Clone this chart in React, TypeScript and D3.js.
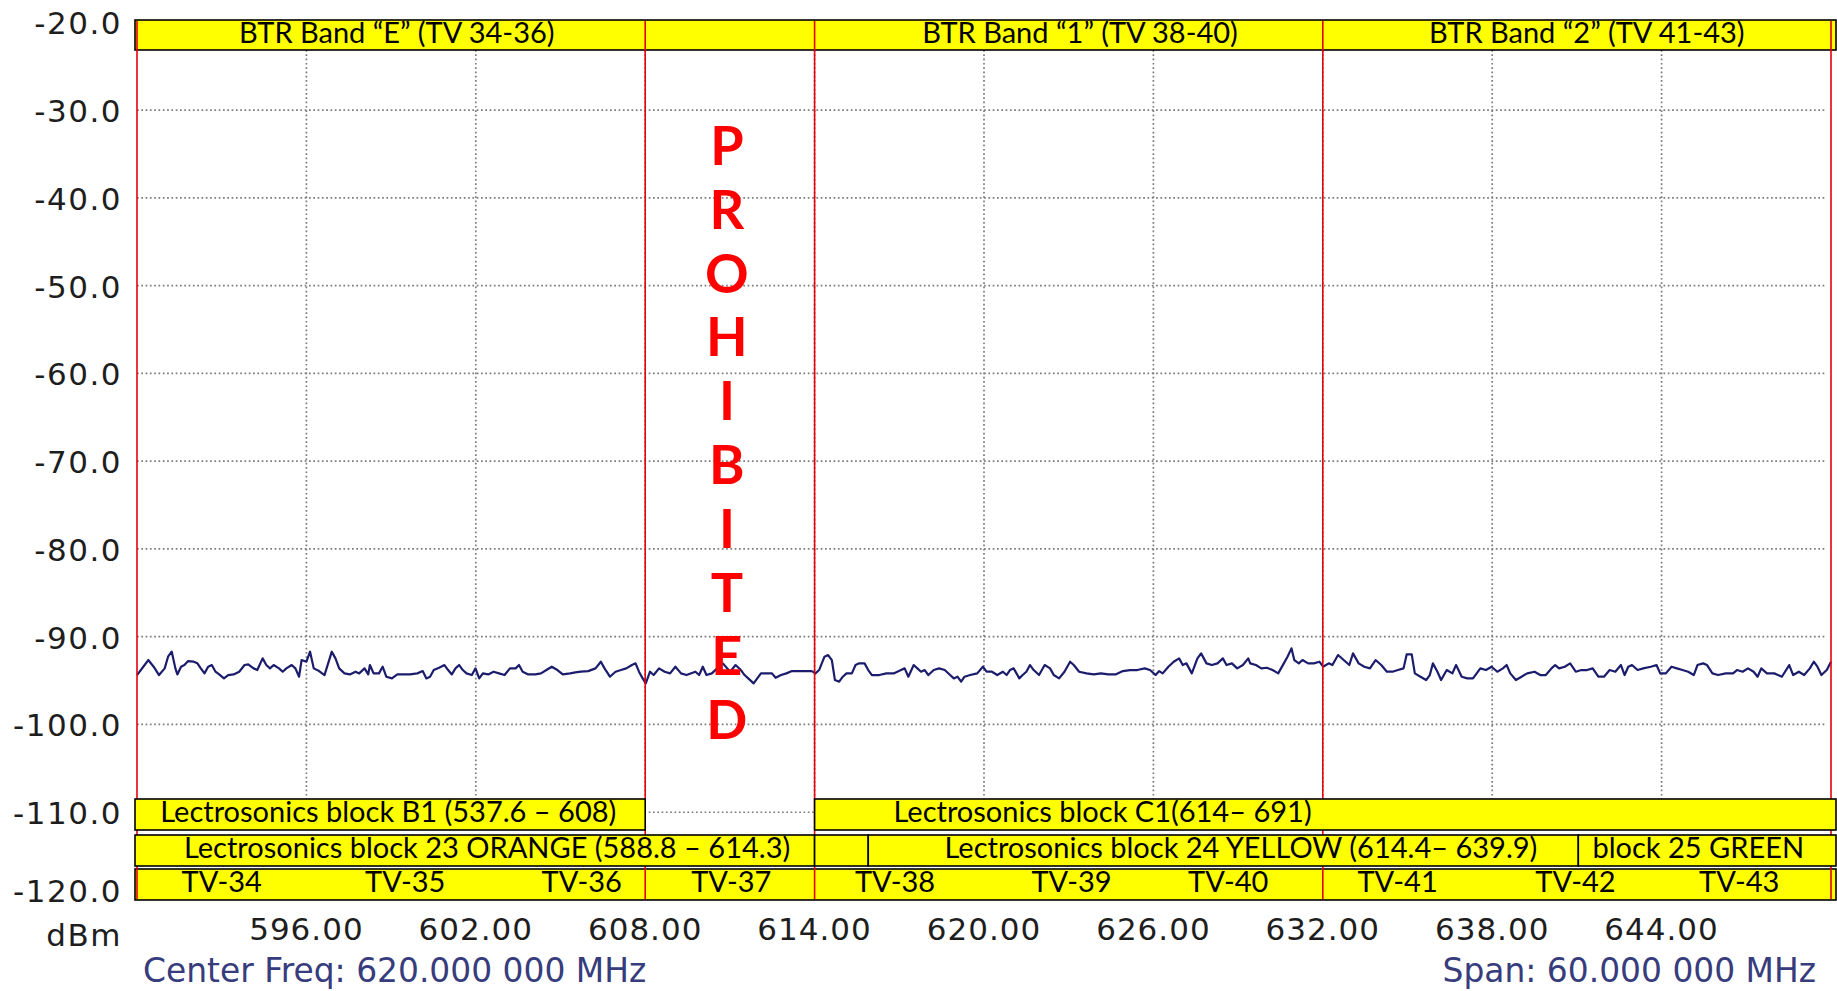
import React from 'react'
import * as d3 from 'd3'

const WIDTH = 1837
const HEIGHT = 991

// analyzer sweep: 590 - 650 MHz, -20 .. -120 dBm
const FREQ_START = 590
const FREQ_STOP = 650
const LEVEL_TOP = -20
const LEVEL_BOTTOM = -120

const levelTicks = [-20, -30, -40, -50, -60, -70, -80, -90, -100, -110, -120]
const freqTicks = [596, 602, 608, 614, 620, 626, 632, 638, 644]

// [MHz, dBm]
const trace: [number, number][] = [
  [590.0, -94.37], [590.27, -93.23], [590.4, -92.66], [590.59, -93.42], [590.78, -94.37], [590.98, -93.61], [591.1, -92.28], [591.23, -91.71], [591.36, -93.61], [591.43, -94.3],
  [591.56, -93.42], [591.68, -93.23], [591.81, -92.78], [592.01, -92.85], [592.14, -93.04], [592.26, -93.61], [592.39, -94.18], [592.52, -93.42], [592.65, -93.23], [592.78, -93.99],
  [592.91, -94.3], [593.08, -94.75], [593.23, -94.37], [593.42, -94.3], [593.62, -93.99], [593.81, -93.23], [593.94, -93.16], [594.13, -93.61], [594.26, -93.8], [594.45, -92.47],
  [594.58, -93.23], [594.71, -93.61], [594.84, -93.23], [595.03, -93.61], [595.16, -93.99], [595.29, -93.61], [595.48, -93.23], [595.61, -93.61], [595.74, -94.56], [595.83, -92.66],
  [596.0, -92.85], [596.13, -91.71], [596.26, -93.61], [596.45, -93.92], [596.64, -94.37], [596.77, -93.04], [596.9, -91.71], [597.03, -92.47], [597.16, -93.61], [597.35, -94.18],
  [597.54, -94.3], [597.74, -93.99], [597.87, -94.18], [598.06, -93.61], [598.19, -94.3], [598.25, -93.23], [598.38, -94.18], [598.57, -94.18], [598.7, -93.42], [598.83, -94.56],
  [599.03, -94.75], [599.22, -94.3], [599.41, -94.3], [599.67, -94.3], [599.93, -94.18], [600.12, -93.92], [600.25, -94.75], [600.38, -94.56], [600.51, -93.8], [600.7, -93.54],
  [600.89, -93.23], [601.02, -93.8], [601.15, -94.3], [601.28, -93.61], [601.41, -93.23], [601.54, -93.8], [601.67, -94.18], [601.86, -94.37], [601.99, -93.61], [602.12, -94.75],
  [602.25, -94.18], [602.44, -94.3], [602.63, -93.99], [602.82, -94.18], [603.02, -94.37], [603.21, -93.61], [603.41, -93.61], [603.53, -93.23], [603.66, -93.99], [603.86, -94.3],
  [604.11, -94.3], [604.31, -94.18], [604.5, -93.8], [604.69, -93.42], [604.89, -93.8], [605.08, -94.3], [605.34, -94.18], [605.53, -94.07], [605.72, -93.99], [605.98, -93.92],
  [606.24, -93.61], [606.43, -92.85], [606.56, -93.61], [606.75, -94.56], [606.95, -93.99], [607.14, -93.8], [607.33, -93.61], [607.53, -93.23], [607.66, -93.04], [607.78, -93.99],
  [607.91, -94.75], [608.02, -95.32], [608.17, -93.99], [608.3, -94.37], [608.49, -93.61], [608.69, -93.99], [608.88, -94.18], [609.07, -93.42], [609.27, -94.18], [609.46, -94.37],
  [609.78, -93.99], [609.91, -94.37], [610.04, -93.42], [610.17, -94.37], [610.36, -94.18], [610.55, -93.61], [610.75, -93.04], [611.01, -93.99], [611.2, -93.23], [611.39, -93.8],
  [611.52, -94.37], [611.65, -94.75], [611.84, -95.32], [611.97, -94.75], [612.1, -94.18], [612.29, -94.18], [612.49, -94.18], [612.62, -94.68], [612.81, -94.37], [613.0, -94.18],
  [613.2, -93.92], [613.45, -93.92], [613.71, -93.92], [613.9, -93.92], [614.03, -94.18], [614.16, -93.8], [614.35, -92.28], [614.48, -92.09], [614.61, -92.66], [614.72, -94.94],
  [614.87, -95.13], [615.0, -94.56], [615.13, -94.18], [615.32, -94.18], [615.45, -93.23], [615.58, -93.04], [615.77, -93.04], [615.9, -93.8], [616.03, -94.37], [616.29, -94.37],
  [616.54, -94.18], [616.8, -94.18], [617.06, -93.8], [617.19, -93.61], [617.32, -94.56], [617.51, -93.23], [617.64, -93.61], [617.77, -93.99], [617.9, -93.8], [618.03, -94.37],
  [618.22, -93.8], [618.41, -93.61], [618.61, -93.8], [618.8, -94.37], [618.93, -94.75], [619.06, -94.56], [619.19, -95.13], [619.31, -94.56], [619.51, -94.37], [619.76, -94.18],
  [619.96, -93.42], [620.09, -93.99], [620.28, -93.99], [620.47, -94.37], [620.67, -93.99], [620.8, -94.37], [620.92, -93.8], [621.05, -93.61], [621.25, -94.75], [621.37, -94.37],
  [621.5, -93.99], [621.63, -93.23], [621.76, -93.8], [621.95, -94.37], [622.15, -93.23], [622.34, -93.61], [622.47, -94.37], [622.66, -94.75], [622.85, -93.99], [623.05, -92.85],
  [623.18, -93.23], [623.37, -93.99], [623.63, -94.18], [623.89, -94.3], [624.14, -94.18], [624.4, -94.3], [624.66, -94.3], [624.92, -93.92], [625.17, -93.8], [625.43, -93.8],
  [625.69, -93.61], [625.88, -93.8], [626.08, -94.37], [626.2, -93.92], [626.33, -94.18], [626.53, -93.42], [626.72, -92.85], [626.91, -92.47], [627.04, -93.23], [627.17, -93.04],
  [627.36, -94.18], [627.56, -92.47], [627.69, -91.9], [627.88, -93.04], [628.07, -93.23], [628.27, -93.04], [628.46, -92.47], [628.59, -93.23], [628.78, -93.04], [628.97, -93.61],
  [629.17, -93.23], [629.36, -92.47],
  [629.43, -93.04], [629.63, -93.23], [629.82, -93.61], [630.02, -93.54], [630.22, -93.8], [630.42, -94.18], [630.62, -93.04], [630.75, -92.28], [630.89, -91.33], [630.99, -92.66],
  [631.15, -93.04], [631.28, -92.66], [631.48, -93.04], [631.68, -93.04], [631.88, -92.85], [632.01, -93.42], [632.21, -93.04], [632.34, -93.23], [632.54, -92.09], [632.74, -92.66],
  [632.94, -93.23], [633.07, -91.9], [633.27, -93.04], [633.47, -93.42], [633.67, -93.61], [633.87, -92.66], [634.07, -93.23], [634.27, -93.99], [634.47, -93.99], [634.66, -93.8],
  [634.86, -93.61], [634.97, -92.02], [635.15, -92.02], [635.26, -94.18], [635.46, -94.56], [635.66, -94.94], [635.79, -94.37], [635.9, -93.04], [636.06, -93.99], [636.19, -94.94],
  [636.39, -93.8], [636.59, -94.18], [636.72, -93.23], [636.92, -94.56], [637.12, -94.75], [637.32, -94.75], [637.45, -94.18], [637.58, -93.61], [637.78, -93.8], [637.98, -93.42],
  [638.18, -93.99], [638.38, -93.61], [638.51, -93.23], [638.64, -94.18], [638.84, -94.94], [639.04, -94.56], [639.24, -94.18], [639.5, -93.99], [639.7, -94.37], [639.9, -94.37],
  [640.1, -93.61], [640.23, -93.23], [640.37, -93.61], [640.57, -93.42], [640.76, -93.04], [640.96, -93.99], [641.16, -93.8], [641.36, -93.8], [641.56, -93.61], [641.76, -94.56],
  [641.96, -94.56], [642.16, -93.8], [642.36, -93.99], [642.56, -93.23], [642.69, -94.37], [642.82, -93.42], [642.95, -93.23], [643.15, -93.8], [643.35, -93.61], [643.62, -93.42],
  [643.82, -93.23], [643.95, -94.18], [644.15, -94.18], [644.35, -93.42], [644.54, -93.61], [644.74, -93.8], [644.94, -93.99], [645.14, -94.37], [645.27, -93.23], [645.47, -93.04],
  [645.61, -93.23], [645.8, -94.18], [646.0, -94.37], [646.27, -94.18], [646.53, -94.18], [646.67, -93.8], [646.87, -93.99], [647.06, -93.61], [647.26, -93.99], [647.4, -94.56],
  [647.53, -93.61], [647.73, -94.18], [647.99, -94.18], [648.26, -94.56], [648.52, -93.23], [648.66, -94.37], [648.86, -93.99], [649.05, -94.37], [649.25, -93.61], [649.39, -92.85],
  [649.52, -93.42], [649.66, -94.37], [649.85, -93.8], [650.0, -92.85],
]

// annotation rows, lo/hi in MHz, label centred at "at"
const btrBands = [
  { label: 'BTR Band “E” (TV 34-36)', lo: 590, hi: 608, at: 599.2 },
  { label: '', lo: 608, hi: 614, at: 611 },
  { label: 'BTR Band “1” (TV 38-40)', lo: 614, hi: 632, at: 623.4 },
  { label: 'BTR Band “2” (TV 41-43)', lo: 632, hi: 650, at: 641.35 },
]

const lectroBlocksA = [
  { label: 'Lectrosonics block B1 (537.6 – 608)', lo: 590, hi: 608, at: 598.9 },
  { label: 'Lectrosonics block C1(614– 691)', lo: 614, hi: 650, at: 624.2 },
]

const lectroBlocksB = [
  { label: 'Lectrosonics block 23 ORANGE (588.8 – 614.3)', lo: 590, hi: 614, at: 602.4 },
  { label: '', lo: 614, hi: 615.9, at: 615 },
  { label: 'Lectrosonics block 24 YELLOW (614.4– 639.9)', lo: 615.9, hi: 641.05, at: 629.1 },
  { label: 'block 25 GREEN', lo: 641.05, hi: 650, at: 645.3 },
]

// channel label positions as placed in the picture
const tvChannels = [
  { name: 'TV-34', lo: 590, hi: 596, at: 593.0 },
  { name: 'TV-35', lo: 596, hi: 602, at: 599.5 },
  { name: 'TV-36', lo: 602, hi: 608, at: 605.75 },
  { name: 'TV-37', lo: 608, hi: 614, at: 611.05 },
  { name: 'TV-38', lo: 614, hi: 620, at: 616.85 },
  { name: 'TV-39', lo: 620, hi: 626, at: 623.1 },
  { name: 'TV-40', lo: 626, hi: 632, at: 628.65 },
  { name: 'TV-41', lo: 632, hi: 638, at: 634.65 },
  { name: 'TV-42', lo: 638, hi: 644, at: 640.95 },
  { name: 'TV-43', lo: 644, hi: 650, at: 646.75 },
]

const bandEdges = [590, 608, 614, 632, 650]
const prohibitedLetters = ['P', 'R', 'O', 'H', 'I', 'B', 'I', 'T', 'E', 'D']

const centerFreqText = 'Center Freq: 620.000 000 MHz'
const spanText = 'Span: 60.000 000 MHz'

// layout
const PLOT_LEFT = 137
const PLOT_RIGHT = 1831
const PLOT_TOP = 22.3
const PLOT_BOTTOM = 900
const TOP_BAND = { y: 20, h: 30 }
const ROW_A = { y: 799, h: 31 }
const ROW_B = { y: 835, h: 31 }
const ROW_TV = { y: 869, h: 31 }

const YELLOW = '#ffff00'
const RED = '#e8000b'
const GRID = '#7c7c7c'
const TRACE = '#1b1d6c'
const LABEL_FONT = '"DejaVu Sans", Verdana, sans-serif'
const BOX_FONT = 'Lato, "Open Sans", sans-serif'

export default function App() {
  const x = d3.scaleLinear().domain([FREQ_START, FREQ_STOP]).range([PLOT_LEFT, PLOT_RIGHT])
  const y = d3.scaleLinear().domain([LEVEL_BOTTOM, LEVEL_TOP]).range([PLOT_BOTTOM, PLOT_TOP])

  const tracePath = d3
    .line<[number, number]>()
    .x(d => x(d[0]))
    .y(d => y(d[1]))(trace)

  // boxes touching the sweep edges run a little past the plot frame
  const boxLeft = (f: number) => (f <= FREQ_START ? x(f) - 2 : x(f))
  const boxRight = (f: number) => (f >= FREQ_STOP ? x(f) + 5 : x(f))

  const renderRow = (items, row, keyPrefix) =>
    items.map((b, i) => (
      <rect
        key={`${keyPrefix}-${i}`}
        x={boxLeft(b.lo)}
        y={row.y}
        width={boxRight(b.hi) - boxLeft(b.lo)}
        height={row.h}
        fill={YELLOW}
        stroke="#000"
        strokeWidth={1.6}
      />
    ))

  const renderRowText = (items, row, keyPrefix) =>
    items
      .filter(b => b.label)
      .map((b, i) => (
        <text
          key={`${keyPrefix}-t-${i}`}
          x={x(b.at)}
          y={row.y + 23}
          textAnchor="middle"
          fontFamily={BOX_FONT}
          fontSize={29}
          fill="#000"
        >
          {b.label}
        </text>
      ))

  const gridLevels = levelTicks.filter(v => v !== LEVEL_TOP && v !== LEVEL_BOTTOM)

  return (
    <svg
      width={WIDTH}
      height={HEIGHT}
      style={{ position: 'absolute', left: 0, top: 0, background: '#fff' }}
    >
      <rect x={0} y={0} width={WIDTH} height={HEIGHT} fill="#fff" />

      {/* dotted grid */}
      {gridLevels.map(v => (
        <line
          key={`h${v}`}
          x1={PLOT_LEFT}
          x2={PLOT_RIGHT - 6}
          y1={y(v)}
          y2={y(v)}
          stroke={GRID}
          strokeWidth={1.7}
          strokeDasharray="1.7 2.6"
        />
      ))}
      {freqTicks.map(f => (
        <line
          key={`v${f}`}
          x1={x(f)}
          x2={x(f)}
          y1={TOP_BAND.y + TOP_BAND.h}
          y2={ROW_A.y}
          stroke={GRID}
          strokeWidth={1.7}
          strokeDasharray="1.7 2.6"
        />
      ))}

      {/* measured trace */}
      <path d={tracePath} fill="none" stroke={TRACE} strokeWidth={2.2} strokeLinejoin="round" />

      {/* BTR band header */}
      <rect
        x={boxLeft(FREQ_START)}
        y={TOP_BAND.y}
        width={boxRight(FREQ_STOP) - boxLeft(FREQ_START)}
        height={TOP_BAND.h}
        fill={YELLOW}
        stroke="#000"
        strokeWidth={1.6}
      />

      {/* TV channel strip */}
      <rect
        x={boxLeft(FREQ_START)}
        y={ROW_TV.y}
        width={boxRight(FREQ_STOP) - boxLeft(FREQ_START)}
        height={ROW_TV.h}
        fill={YELLOW}
        stroke="#000"
        strokeWidth={1.6}
      />

      {/* band edges */}
      {bandEdges.map(f => (
        <line
          key={`r${f}`}
          x1={x(f)}
          x2={x(f)}
          y1={TOP_BAND.y + 1}
          y2={ROW_TV.y + ROW_TV.h - 1}
          stroke={RED}
          strokeWidth={1.6}
        />
      ))}

      {renderRow(lectroBlocksA, ROW_A, 'a')}
      {renderRow(lectroBlocksB, ROW_B, 'b')}

      {renderRowText(btrBands, TOP_BAND, 'btr')}
      {renderRowText(lectroBlocksA, ROW_A, 'a')}
      {renderRowText(lectroBlocksB, ROW_B, 'b')}
      {tvChannels.map(c => (
        <text
          key={c.name}
          x={x(c.at)}
          y={ROW_TV.y + 23}
          textAnchor="middle"
          fontFamily={BOX_FONT}
          fontSize={29}
          fill="#000"
        >
          {c.name}
        </text>
      ))}

      {/* PROHIBITED, stacked down the TV-37 column */}
      {prohibitedLetters.map((ch, i) => (
        <text
          key={`p${i}`}
          x={x(611) - 3}
          y={165 + i * 63.8}
          textAnchor="middle"
          fontFamily={BOX_FONT}
          fontWeight={700}
          fontSize={54}
          fill="#ff0000"
        >
          {ch}
        </text>
      ))}

      {/* level axis */}
      {levelTicks.map(v => (
        <text
          key={`yl${v}`}
          x={122}
          y={(v === LEVEL_BOTTOM ? y(v) - 10 : y(v)) + 12}
          textAnchor="end"
          fontFamily={LABEL_FONT}
          fontSize={31}
          letterSpacing={1.5}
          fill="#1e1e1e"
        >
          {v.toFixed(1)}
        </text>
      ))}
      <text
        x={122}
        y={946}
        textAnchor="end"
        fontFamily={LABEL_FONT}
        fontSize={31}
        letterSpacing={1.5}
        fill="#1e1e1e"
      >
        dBm
      </text>

      {/* frequency axis */}
      {freqTicks.map(f => (
        <text
          key={`xl${f}`}
          x={x(f)}
          y={940}
          textAnchor="middle"
          fontFamily={LABEL_FONT}
          fontSize={31}
          letterSpacing={1}
          fill="#1e1e1e"
        >
          {f.toFixed(2)}
        </text>
      ))}

      <text x={143} y={982} fontFamily={LABEL_FONT} fontSize={32.9} fill="#363c7c">
        {centerFreqText}
      </text>
      <text x={1816} y={982} textAnchor="end" fontFamily={LABEL_FONT} fontSize={32.9} fill="#363c7c">
        {spanText}
      </text>
    </svg>
  )
}
